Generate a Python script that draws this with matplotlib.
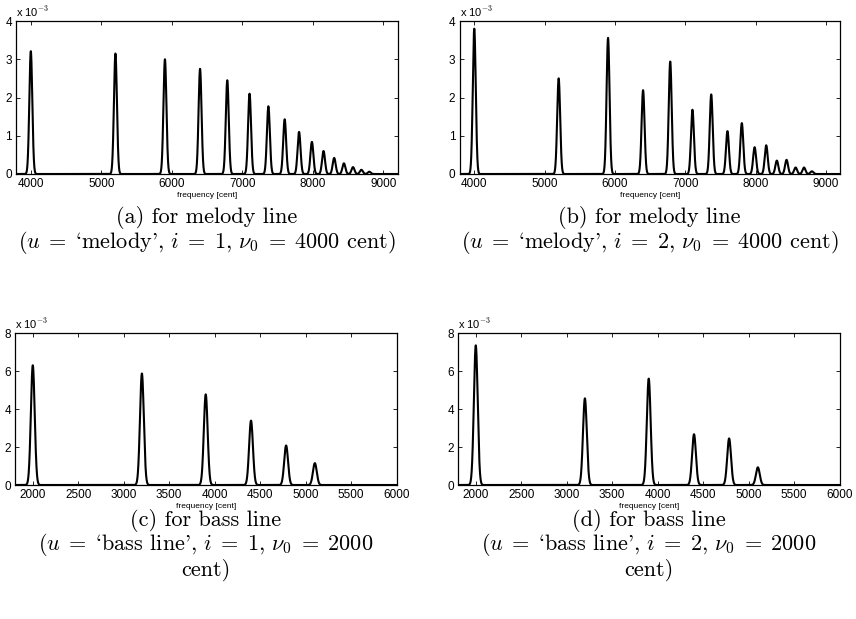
#!/usr/bin/env python3
"""Tone-model shapes for melody and bass lines (four panels)."""
import numpy as np
import matplotlib
matplotlib.use('Agg')
import matplotlib.pyplot as plt
from matplotlib.ticker import FuncFormatter, MultipleLocator

plt.rcParams['font.family'] = ['Liberation Sans', 'DejaVu Sans']
plt.rcParams['mathtext.fontset'] = 'cm'

# peak positions in cent (harmonic partials above nu0)
melody_pos = [4000, 5200, 5902, 6400, 6786, 7102, 7369, 7600,
              7804, 7986, 8151, 8302, 8440, 8569, 8688, 8800]
bass_pos = [2000, 3200, 3902, 4400, 4786, 5102]

# peak heights
melody_i1 = [3.21e-3, 3.15e-3, 3.00e-3, 2.75e-3, 2.45e-3, 2.10e-3, 1.77e-3, 1.43e-3,
             1.10e-3, 0.84e-3, 0.60e-3, 0.42e-3, 0.28e-3, 0.18e-3, 0.11e-3, 0.06e-3]
melody_i2 = [3.80e-3, 2.50e-3, 3.56e-3, 2.19e-3, 2.94e-3, 1.68e-3, 2.08e-3, 1.12e-3,
             1.33e-3, 0.70e-3, 0.75e-3, 0.35e-3, 0.37e-3, 0.17e-3, 0.17e-3, 0.07e-3]
bass_i1 = [6.30e-3, 5.87e-3, 4.77e-3, 3.39e-3, 2.08e-3, 1.15e-3]
bass_i2 = [7.35e-3, 4.56e-3, 5.60e-3, 2.67e-3, 2.45e-3, 0.93e-3]

peak_sd = 21.0  # cent

EQ = r'\;=\;'
captions = [
    ["(a) for melody line",
     rf"$(u{EQ}$`melody'$,\,i{EQ}1,\,\nu_0{EQ}4000$ cent$)$"],
    ["(b) for melody line",
     rf"$(u{EQ}$`melody'$,\,i{EQ}2,\,\nu_0{EQ}4000$ cent$)$"],
    ["(c) for bass line",
     rf"$(u{EQ}$`bass line'$,\,i{EQ}1,\,\nu_0{EQ}2000$", "cent)"],
    ["(d) for bass line",
     rf"$(u{EQ}$`bass line'$,\,i{EQ}2,\,\nu_0{EQ}2000$", "cent)"],
]

W, H = 856, 619
panels = [
    # left, top, right, bottom in pixels, xlim, ylim, xstep, ystep, pos, heights
    (16, 21, 397.5, 174, (3790, 9200), 4e-3, 1000, 1e-3, melody_pos, melody_i1),
    (459.5, 21, 840, 174, (3790, 9200), 4e-3, 1000, 1e-3, melody_pos, melody_i2),
    (15.5, 333, 396.5, 485, (1810, 6000), 8e-3, 500, 2e-3, bass_pos, bass_i1),
    (458.5, 333, 839.5, 485, (1810, 6000), 8e-3, 500, 2e-3, bass_pos, bass_i2),
]

fig = plt.figure(figsize=(W / 100, H / 100), dpi=100)
for k, (l, t, r, b, xl, ymax, xs, ys, pos, hts) in enumerate(panels):
    ax = fig.add_axes([l / W, 1 - b / H, (r - l) / W, (b - t) / H])
    x = np.linspace(xl[0], xl[1], 6000)
    y = np.zeros_like(x)
    for p, h in zip(pos, hts):
        y += h * np.exp(-0.5 * ((x - p) / peak_sd) ** 2)
    ax.plot(x, y, color='black', lw=1.5)
    ax.set_xlim(*xl); ax.set_ylim(0, ymax)
    ax.xaxis.set_major_locator(MultipleLocator(xs))
    ax.yaxis.set_major_locator(MultipleLocator(ys))
    ax.yaxis.set_major_formatter(FuncFormatter(lambda v, _: f'{v * 1e3:g}'))
    ax.tick_params(direction='in', length=3, width=0.6, labelsize=8.5,
                   top=True, right=True, pad=3)
    for s in ax.spines.values():
        s.set_linewidth(0.9)
    ax.set_xlabel('frequency [cent]', fontsize=6, labelpad=1)
    ax.text(0, 1.01, r'x 10$^{-3}$', transform=ax.transAxes, fontsize=8,
            ha='left', va='bottom')
    cx = (l + r) / 2 / W
    y0 = 218 if k < 2 else 520
    for j, line in enumerate(captions[k]):
        fig.text(cx, 1 - (y0 + 25 * j) / H, line, family='cmr10', fontsize=16,
                 ha='center', va='center')

fig.savefig('out.png', dpi=100)
